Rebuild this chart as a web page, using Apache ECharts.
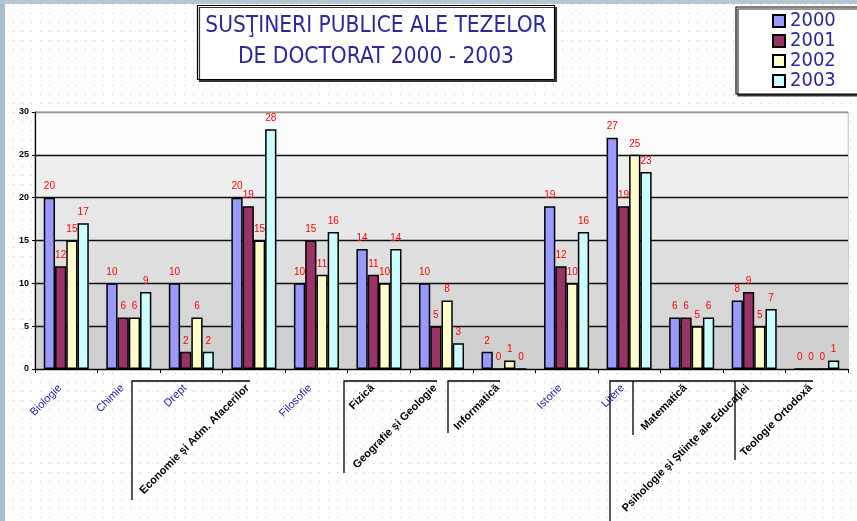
<!DOCTYPE html>
<html>
<head>
<meta charset="utf-8">
<script src="https://cdn.jsdelivr.net/npm/echarts@6/dist/echarts.min.js"></script>
<style>
html, body { margin: 0; padding: 0; }
body {
    width: 857px;
    height: 521px;
    overflow: hidden;
    background:
        linear-gradient(#b7c6d2, #b7c6d2) 0 0 / 100% 4px no-repeat,
        linear-gradient(#a9bccb, #a9bccb) 0 0 / 5px 100% no-repeat,
        radial-gradient(#c4c4c4 0.8px, transparent 1px) 0 0 / 9px 9px,
        #fff;
}
#chart {
    width: 857px;
    height: 521px;
}
</style>
</head>
<body>
<div id="chart"></div>
<script>
const CATEGORIES = ['Biologie', 'Chimie', 'Drept', 'Economie şi Adm. Afacerilor', 'Filosofie', 'Fizică',
    'Geografie şi Geologie', 'Informatică', 'Istorie', 'Litere', 'Matematică',
    'Psihologie şi Ştiinţe ale Educaţiei', 'Teologie Ortodoxă']
const YEARS = ['2000', '2001', '2002', '2003']
const V2000 = [20, 10, 10, 20, 10, 14, 10, 2, 19, 27, 6, 8, 0]
const V2001 = [12, 6, 2, 19, 15, 11, 5, 0, 12, 19, 6, 9, 0]
const V2002 = [15, 6, 6, 15, 11, 10, 8, 1, 10, 25, 5, 5, 0]
const V2003 = [17, 9, 2, 28, 16, 14, 3, 0, 16, 23, 6, 7, 1]
const Y_TICKS = [0, 5, 10, 15, 20, 25, 30]

// labels drawn in bold black (the rest are blue)
const BLACK_LABELS = new Set(['Economie şi Adm. Afacerilor', 'Fizică', 'Geografie şi Geologie', 'Informatică',
    'Matematică', 'Psihologie şi Ştiinţe ale Educaţiei', 'Teologie Ortodoxă'])

const COLORS = ['#9999ff', '#993366', '#ffffcc', '#ccffff']
const VALUES = [V2000, V2001, V2002, V2003]
const NARROW = "'Liberation Sans Narrow', 'DejaVu Sans Condensed', sans-serif"

const chart = echarts.init(document.getElementById('chart'))

const series = YEARS.map((y, i) => ({
    name: y,
    type: 'bar',
    data: VALUES[i],
    barGap: '0%',
    barCategoryGap: '28%',
    itemStyle: {
        color: COLORS[i],
        borderColor: '#000',
        borderWidth: 1.5
    },
    label: {
        show: true,
        position: 'top',
        distance: 6,
        color: '#ff0000',
        fontSize: 10,
        fontFamily: 'Liberation Sans'
    }
}))

const option = {
    backgroundColor: 'transparent',
    animation: false,
    title: {
        text: 'SUSŢINERI PUBLICE ALE TEZELOR\nDE DOCTORAT 2000 - 2003',
        left: 368,
        top: 5,
        textAlign: 'center',
        padding: [6, 8, 7, 8],
        backgroundColor: '#fff',
        borderColor: '#000',
        borderWidth: 1.2,
        shadowColor: '#333',
        shadowOffsetX: 2,
        shadowOffsetY: 2,
        textStyle: {
            color: '#2a2a9c',
            fontSize: 22.5,
            fontWeight: 'normal',
            fontFamily: NARROW,
            lineHeight: 31,
            align: 'center'
        }
    },
    legend: {
        orient: 'vertical',
        left: 736,
        top: 7,
        padding: [4, 30, 3, 36],
        itemGap: 0,
        itemWidth: 12,
        itemHeight: 12,
        icon: 'rect',
        backgroundColor: '#fff',
        borderColor: '#000',
        borderWidth: 1.2,
        shadowColor: '#333',
        shadowOffsetX: 2,
        shadowOffsetY: 2,
        textStyle: {
            color: '#2a2a9c',
            fontSize: 20,
            lineHeight: 19,
            fontFamily: NARROW
        }
    },
    grid: {
        show: true,
        borderColor: '#999',
        borderWidth: 1,
        left: 35,
        right: 9,
        top: 112,
        bottom: 152
    },
    xAxis: {
        type: 'category',
        data: CATEGORIES,
        axisLine: { lineStyle: { color: '#000', width: 1.2 } },
        axisTick: { show: true, length: 4, lineStyle: { color: '#000' } },
        axisLabel: {
            interval: 0,
            rotate: 45,
            margin: 11,
            formatter: v => BLACK_LABELS.has(v) ? '{k|' + v + '}' : '{b|' + v + '}',
            rich: {
                k: { color: '#000', fontSize: 11, fontWeight: 'bold', fontFamily: 'Liberation Sans', padding: [0, 9, 0, 0] },
                b: { color: '#1a1aa8', fontSize: 11, fontFamily: 'Liberation Sans', padding: [0, 9, 0, 0] }
            }
        }
    },
    yAxis: {
        type: 'value',
        min: Y_TICKS[0],
        max: Y_TICKS[Y_TICKS.length - 1],
        interval: 5,
        axisLine: { show: true, lineStyle: { color: '#000', width: 1.2 } },
        axisTick: { show: true, length: 3, lineStyle: { color: '#000' } },
        axisLabel: {
            color: '#000',
            fontSize: 9,
            fontWeight: 'bold',
            fontFamily: 'Liberation Sans',
            margin: 6
        },
        splitLine: {
            show: true,
            lineStyle: { color: ['#111', '#111', '#111', '#111', '#111', '#111', '#999'], width: 1.3 }
        },
        splitArea: {
            show: true,
            areaStyle: {
                color: ['#d0d0d0', '#d7d7d7', '#dfdfdf', '#e7e7e7', '#efefef', 'rgba(250,250,250,0.7)']
            }
        }
    },
    series: series
}
chart.setOption(option)

// bracket lines under the staggered category labels
const brackets = [
    [[132, 500], [132, 381], [250, 381]],
    [[344, 473], [344, 381], [437, 381]],
    [[448, 433], [448, 381], [500, 381]],
    [[610, 521], [610, 381], [813, 381]],
    [[633, 435], [633, 381]],
    [[735, 460], [735, 381]]
]
chart.setOption({
    graphic: brackets.map(pts => ({
        type: 'polyline',
        silent: true,
        z: 100,
        shape: { points: pts },
        style: { stroke: '#000', lineWidth: 1.3, fill: null }
    }))
})
</script>
</body>
</html>
